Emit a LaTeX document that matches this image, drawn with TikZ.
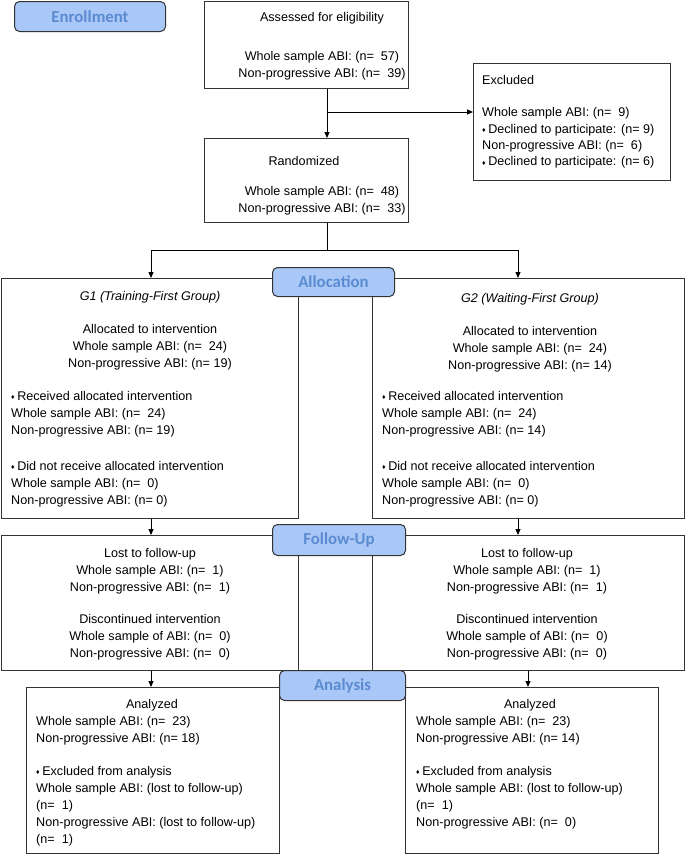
\documentclass[tikz,border=0pt]{standalone}
\usepackage{fontspec}
\setmainfont{Liberation Sans}
\newfontfamily\tabfont{Carlito}
\usepackage[svgnames]{xcolor}
\usepackage{tikz}
\usetikzlibrary{arrows.meta}
\definecolor{tabfill}{HTML}{A9C7F7}
\definecolor{tabtext}{HTML}{5B8BD0}
\definecolor{boxline}{HTML}{333333}
\newcommand{\diam}{{\fontsize{7}{7}\selectfont\raisebox{0.8pt}{♦}}\hspace{2.5pt}}
\newcommand{\nval}[1]{(n=\ \ #1)}

\begin{document}
\begin{tikzpicture}[x=1pt, y=-1pt, >={Triangle[length=6pt,width=5pt]},
        every node/.append style={inner sep=0pt},
        font=\fontsize{12.6}{17}\selectfont]
      \tikzstyle{box} = [draw=boxline, line width=1pt, fill=white, anchor=north west]
      \tikzstyle{phase} = [draw=boxline, line width=1pt, fill=tabfill, rounded corners=5pt,
        anchor=north west, text=tabtext, font=\tabfont\bfseries\fontsize{16.8}{18}\selectfont]
      \tikzstyle{line} = [anchor=north, align=center]
      \tikzstyle{list} = [anchor=north west, align=left]
      \tikzstyle{link} = [draw=black, line width=1pt]
      \useasboundingbox (0,0) rectangle (685,855);
      \node (assess) [box, minimum width=204, minimum height=87] at (204,1) {};
      \node (excl) [box, minimum width=197, minimum height=117] at (473,63) {};
      \node (rand) [box, minimum width=204, minimum height=84] at (204,138) {};
      \node (g1) [box, minimum width=297, minimum height=240] at (1,278) {};
      \node (g2) [box, minimum width=312, minimum height=240] at (372,278) {};
      \node (fu1) [box, minimum width=297, minimum height=135] at (1,535) {};
      \node (fu2) [box, minimum width=312, minimum height=135] at (372,535) {};
      \node (an1) [box, minimum width=253, minimum height=166] at (26,687) {};
      \node (an2) [box, minimum width=253, minimum height=166] at (405,687) {};
      \coordinate (spine) at (327,112);
      \coordinate (fork) at (327,250);
      \coordinate (colL) at (151,0);
      \coordinate (colR) at (518,0);
      \coordinate (colRR) at (528,0);
      \draw[link,->] (assess.south -| spine) -- (rand.north -| spine);
      \draw[link,->] (spine) -- (spine -| excl.west);
      \draw[link] (rand.south -| fork) -- (fork);
      \draw[link,->] (fork) -| (g1.north -| colL);
      \draw[link,->] (fork) -| (g2.north -| colR);
      \draw[link,->] (g1.south -| colL) -- (fu1.north -| colL);
      \draw[link,->] (g2.south -| colR) -- (fu2.north -| colR);
      \draw[link,->] (fu1.south -| colL) -- (an1.north -| colL);
      \draw[link,->] (fu2.south -| colRR) -- (an2.north -| colRR);
      \node (enroll) [phase, minimum width=151, minimum height=30] at (14,1) {Enrollment};
      \node (alloc) [phase, minimum width=122, minimum height=29] at (272,267) {Allocation};
      \node (follow) [phase, minimum width=133, minimum height=31] at (272,524) {Follow-Up};
      \node (analysis) [phase, minimum width=126, minimum height=30] at (279,670) {Analysis};
      \node (assessT) [line] at (322,12.5) {Assessed for eligibility\\[22pt]
        Whole sample ABI: \nval{57}\\ Non-progressive ABI: \nval{39}};
      \node (exclT) [list, font=\fontsize{12.6}{16.4}\selectfont] at (482,75) {Excluded\\[16pt]
        Whole sample ABI: \nval{9}\\ \diam Declined to participate: (n= 9)\\
        Non-progressive ABI: \nval{6}\\ \diam Declined to participate: (n= 6)};
      \node (randT) [line] at (322,156.5) {Randomized\hspace*{36pt}\\[13pt]
        Whole sample ABI: \nval{48}\\ Non-progressive ABI: \nval{33}};
      \node (g1T) [line] at (150,291) {\textit{G1 (Training-First Group)}\\[16pt]
        Allocated to intervention\\ Whole sample ABI: \nval{24}\\ Non-progressive ABI: (n= 19)};
      \node (g1L) [list] at (11,391) {\diam Received allocated intervention\\
        Whole sample ABI: \nval{24}\\ Non-progressive ABI: (n= 19)\\[19pt]
        \diam Did not receive allocated intervention\\
        Whole sample ABI: \nval{0}\\ Non-progressive ABI: (n= 0)};
      \node (g2T) [line] at (530,293) {\textit{G2 (Waiting-First Group)}\\[16pt]
        Allocated to intervention\\ Whole sample ABI: \nval{24}\\ Non-progressive ABI: (n= 14)};
      \node (g2L) [list] at (382,391) {\diam Received allocated intervention\\
        Whole sample ABI: \nval{24}\\ Non-progressive ABI: (n= 14)\\[19pt]
        \diam Did not receive allocated intervention\\
        Whole sample ABI: \nval{0}\\ Non-progressive ABI: (n= 0)};
      \node (fu1T) [line] at (150,548) {Lost to follow-up\\
        Whole sample ABI: \nval{1}\\ Non-progressive ABI: \nval{1}\\[15pt]
        Discontinued intervention\\ Whole sample of ABI: \nval{0}\\ Non-progressive ABI: \nval{0}};
      \node (fu2T) [line] at (527,548) {Lost to follow-up\\
        Whole sample ABI: \nval{1}\\ Non-progressive ABI: \nval{1}\\[15pt]
        Discontinued intervention\\ Whole sample of ABI: \nval{0}\\ Non-progressive ABI: \nval{0}};
      \node (an1T) [line] at (152,699) {Analyzed};
      \node (an1L) [list] at (36,716) {Whole sample ABI: \nval{23}\\ Non-progressive ABI: (n= 18)\\[16pt]
        \diam Excluded from analysis\\ Whole sample ABI: (lost to follow-up)\\ \nval{1}\\
        Non-progressive ABI: (lost to follow-up)\\ \nval{1}};
      \node (an2T) [line] at (530,699) {Analyzed};
      \node (an2L) [list] at (416,716) {Whole sample ABI: \nval{23}\\ Non-progressive ABI: (n= 14)\\[16pt]
        \diam Excluded from analysis\\ Whole sample ABI: (lost to follow-up)\\ \nval{1}\\
        Non-progressive ABI: \nval{0}};
    \end{tikzpicture}
\end{document}
